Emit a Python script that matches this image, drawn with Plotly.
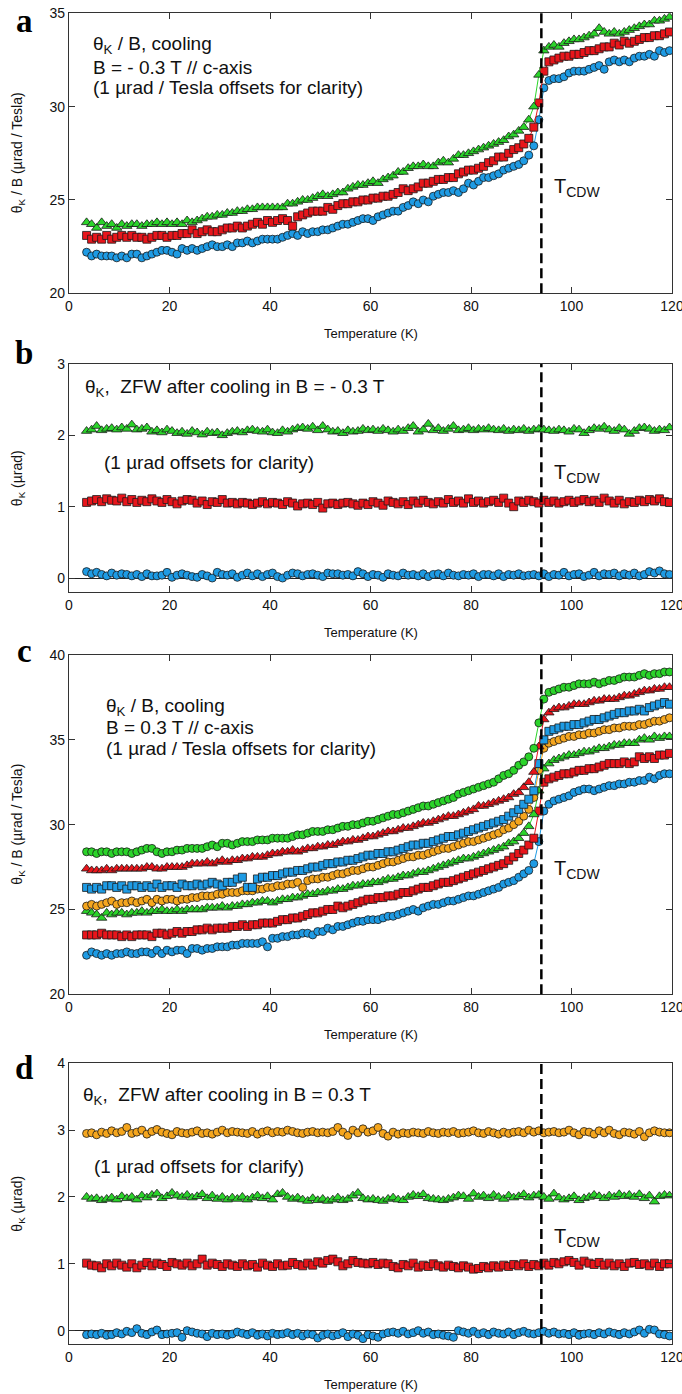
import sys
import plotly.graph_objects as go

# ---------------- data ----------------
T = [3.5, 4.5, 5.5, 6.5, 7.5, 8.5, 9.5, 10.5, 11.5, 12.5,
     13.5, 14.5, 15.5, 16.5, 17.5, 18.5, 19.5, 20.5, 21.5, 22.5,
     23.5, 24.5, 25.5, 26.5, 27.5, 28.5, 29.5, 30.5, 31.5, 32.5,
     33.5, 34.5, 35.5, 36.5, 37.5, 38.5, 39.5, 40.5, 41.5, 42.5,
     43.5, 44.5, 45.5, 46.5, 47.5, 48.5, 49.5, 50.5, 51.5, 52.5,
     53.5, 54.5, 55.5, 56.5, 57.5, 58.5, 59.5, 60.5, 61.5, 62.5,
     63.5, 64.5, 65.5, 66.5, 67.5, 68.5, 69.5, 70.5, 71.5, 72.5,
     73.5, 74.5, 75.5, 76.5, 77.5, 78.5, 79.5, 80.5, 81.5, 82.5,
     83.5, 84.5, 85.5, 86.5, 87.5, 88.5, 89.5, 90.5, 91.5, 92.5,
     93.5, 94.5, 95.5, 96.5, 97.5, 98.5, 99.5, 100.5, 101.5, 102.5,
     103.5, 104.5, 105.5, 106.5, 107.5, 108.5, 109.5, 110.5, 111.5, 112.5,
     113.5, 114.5, 115.5, 116.5, 117.5, 118.5, 119.5]

# panel a : theta_K / B, cooling, B = -0.3 T
a_blue = [22.2, 22.0, 22.1, 22.0, 22.0, 22.0, 21.9, 22.0, 21.9, 22.1,
          22.1, 21.9, 22.0, 22.1, 22.2, 22.3, 22.3, 22.2, 22.1, 22.4,
          22.3, 22.4, 22.3, 22.4, 22.5, 22.6, 22.5, 22.5, 22.6, 22.5,
          22.7, 22.7, 22.8, 22.7, 22.8, 22.9, 22.9, 22.9, 22.9, 23.0,
          23.1, 23.2, 23.1, 23.3, 23.2, 23.3, 23.3, 23.4, 23.4, 23.5,
          23.6, 23.7, 23.7, 23.8, 23.9, 24.0, 24.0, 23.9, 24.1, 24.2,
          24.3, 24.4, 24.4, 24.6, 24.7, 24.9, 24.8, 25.0, 24.9, 25.2,
          25.3, 25.4, 25.4, 25.5, 25.4, 25.6, 25.9, 25.8, 26.0, 26.2,
          26.2, 26.3, 26.4, 26.6, 26.7, 26.8, 26.9, 27.1, 27.4, 27.9,
          29.3, 31.0, 31.4, 31.5, 31.5, 31.6, 31.8, 31.9, 31.9, 31.9,
          32.0, 32.1, 32.2, 32.0, 32.4, 32.5, 32.4, 32.5, 32.4, 32.6,
          32.7, 32.7, 32.8, 32.7, 33.0, 32.9, 33.0]
a_red = [23.1, 22.9, 23.0, 22.9, 23.1, 22.9, 23.0, 23.1, 23.0, 23.1,
         23.0, 23.0, 22.9, 23.0, 23.1, 23.1, 23.0, 23.1, 23.1, 23.2,
         23.2, 23.4, 23.2, 23.3, 23.4, 23.3, 23.3, 23.4, 23.5, 23.5,
         23.6, 23.5, 23.6, 23.7, 23.8, 23.7, 23.9, 23.8, 23.9, 24.0,
         23.9, 23.6, 24.1, 24.2, 24.3, 24.4, 24.4, 24.4, 24.6, 24.5,
         24.7, 24.8, 24.8, 24.9, 24.9, 25.0, 25.0, 25.1, 25.1, 25.2,
         25.2, 25.3, 25.4, 25.6, 25.5, 25.6, 25.7, 25.9, 25.9, 26.0,
         26.1, 26.1, 26.2, 26.2, 26.4, 26.5, 26.6, 26.6, 26.7, 26.8,
         27.0, 27.1, 27.3, 27.3, 27.5, 27.7, 27.8, 28.0, 28.3, 28.9,
         30.2, 31.9, 32.4, 32.5, 32.6, 32.7, 32.7, 32.8, 32.8, 32.9,
         33.0, 33.0, 33.1, 33.2, 33.2, 33.4, 33.3, 33.5, 33.4, 33.5,
         33.6, 33.7, 33.7, 33.8, 33.8, 33.9, 34.0]
a_green = [23.8, 23.7, 23.5, 23.8, 23.6, 23.7, 23.5, 23.7, 23.6, 23.7,
           23.7, 23.6, 23.7, 23.7, 23.8, 23.7, 23.8, 23.7, 23.8, 23.7,
           23.9, 23.8, 23.9, 24.0, 24.1, 24.1, 24.2, 24.2, 24.3, 24.3,
           24.4, 24.4, 24.5, 24.5, 24.6, 24.6, 24.6, 24.6, 24.6, 24.6,
           24.8, 24.8, 24.9, 25.0, 25.0, 25.1, 25.2, 25.3, 25.2, 25.3,
           25.4, 25.4, 25.6, 25.7, 25.8, 25.8, 25.9, 26.0, 25.9, 26.1,
           26.2, 26.3, 26.5, 26.5, 26.7, 26.8, 26.8, 26.9, 26.8, 26.8,
           27.0, 27.1, 27.0, 27.2, 27.4, 27.4, 27.5, 27.6, 27.7, 27.8,
           27.9, 28.0, 28.1, 28.2, 28.4, 28.5, 28.7, 28.9, 29.3, 30.0,
           31.7, 33.0, 33.2, 33.3, 33.2, 33.4, 33.5, 33.6, 33.6, 33.7,
           33.8, 33.9, 34.2, 34.0, 33.9, 34.0, 33.9, 34.0, 34.1, 34.2,
           34.3, 34.4, 34.4, 34.6, 34.6, 34.7, 34.8]

# panel b : theta_K, ZFW after cooling in B = -0.3 T (offset by 1 urad)
b_blue = [0.09, 0.06, 0.08, 0.05, 0.03, 0.07, 0.04, 0.06, 0.05, 0.03,
          0.05, 0.02, 0.06, 0.03, 0.03, 0.04, 0.08, 0.01, 0.04, 0.06,
          0.04, 0.02, 0.01, 0.05, 0.03, 0.00, 0.08, 0.05, 0.04, 0.06,
          0.01, 0.04, 0.07, 0.03, 0.06, 0.02, 0.05, 0.07, 0.02, 0.00,
          0.04, 0.07, 0.06, 0.03, 0.05, 0.06, 0.04, 0.02, 0.07, 0.06,
          0.06, 0.04, 0.05, 0.03, 0.09, 0.06, 0.02, 0.05, 0.04, 0.01,
          0.06, 0.04, 0.03, 0.07, 0.04, 0.05, 0.03, 0.06, 0.02, 0.05,
          0.06, 0.03, 0.07, 0.04, 0.03, 0.05, 0.04, 0.06, 0.02, 0.05,
          0.05, 0.03, 0.06, 0.02, 0.05, 0.04, 0.06, 0.03, 0.04, 0.05,
          0.03, 0.06, 0.02, 0.05, 0.04, 0.08, 0.03, 0.05, 0.06, 0.02,
          0.04, 0.08, 0.03, 0.06, 0.05, 0.07, 0.03, 0.06, 0.04, 0.07,
          0.03, 0.05, 0.09, 0.07, 0.10, 0.06, 0.05]
b_red = [1.06, 1.08, 1.10, 1.07, 1.11, 1.09, 1.08, 1.12, 1.07, 1.10,
         1.06, 1.09, 1.07, 1.11, 1.08, 1.06, 1.10, 1.07, 1.04, 1.08,
         1.10, 1.09, 1.05, 1.08, 1.03, 1.07, 1.06, 1.10, 1.05, 1.06,
         1.04, 1.06, 1.05, 1.03, 1.05, 1.07, 1.04, 1.06, 1.05, 1.03,
         1.07, 1.05, 1.01, 1.04, 1.05, 1.03, 1.06, 0.98, 1.04, 1.05,
         1.03, 1.05, 1.06, 1.04, 1.02, 1.05, 1.03, 1.07, 1.05, 1.02,
         1.08, 1.06, 1.04, 1.07, 1.03, 1.08, 1.05, 1.09, 1.06, 1.04,
         1.07, 1.05, 1.10, 1.06, 1.08, 1.05, 1.11, 1.06, 1.08, 1.05,
         1.07, 1.09, 1.06, 1.12, 1.05, 1.00, 1.08, 1.06, 1.09, 1.07,
         1.05, 1.09, 1.06, 1.08, 1.05, 1.07, 1.09, 1.06, 1.08, 1.10,
         1.07, 1.09, 1.06, 1.12, 1.08, 1.05, 1.09, 1.04, 1.07, 1.06,
         1.09, 1.07, 1.10, 1.08, 1.11, 1.07, 1.06]
b_green = [2.06, 2.08, 2.13, 2.07, 2.09, 2.10, 2.08, 2.11, 2.09, 2.15,
           2.08, 2.09, 2.11, 2.05, 2.07, 2.04, 2.08, 2.06, 2.03, 2.05,
           2.02, 2.06, 2.04, 2.01, 2.05, 2.03, 2.04, 2.00, 2.03, 2.05,
           2.06, 2.04, 2.07, 2.08, 2.06, 2.05, 2.08, 2.04, 2.03, 2.07,
           2.05, 2.08, 2.10, 2.11, 2.09, 2.12, 2.07, 2.13, 2.08, 2.05,
           2.06, 2.03, 2.07, 2.05, 2.06, 2.09, 2.07, 2.08, 2.06, 2.09,
           2.07, 2.05, 2.08, 2.06, 2.10, 2.13, 2.05, 2.08, 2.16, 2.07,
           2.10, 2.06, 2.09, 2.13, 2.07, 2.08, 2.10, 2.07, 2.09, 2.08,
           2.10, 2.08, 2.07, 2.09, 2.06, 2.08, 2.07, 2.09, 2.06, 2.08,
           2.09, 2.08, 2.07, 2.06, 2.08, 2.07, 2.05, 2.09, 2.08, 2.03,
           2.07, 2.10, 2.09, 2.12, 2.08, 2.06, 2.10, 2.08, 2.02, 2.06,
           2.10, 2.11, 2.09, 2.06, 2.08, 2.07, 2.11]

# panel c : theta_K / B, cooling, B = 0.3 T (seven runs, offset)
c_blue_circ = [22.3, 22.5, 22.4, 22.3, 22.4, 22.3, 22.4, 22.4, 22.5, 22.4,
               22.4, 22.5, 22.5, 22.4, 22.6, 22.4, 22.6, 22.5, 22.6, 22.6,
               22.4, 22.7, 22.7, 22.6, 22.7, 22.7, 22.8, 22.8, 22.8, 22.9,
               22.9, 23.0, 23.0, 23.0, 23.0, 23.1, 22.8, 23.3, 23.3, 23.4,
               23.4, 23.5, 23.5, 23.6, 23.6, 23.5, 23.7, 23.7, 23.9, 23.8,
               24.0, 24.0, 24.1, 24.2, 24.3, 24.3, 24.4, 24.4, 24.4, 24.5,
               24.6, 24.6, 24.7, 24.8, 24.9, 25.0, 24.9, 25.1, 25.2, 25.3,
               25.3, 25.4, 25.5, 25.5, 25.6, 25.7, 25.8, 25.8, 25.9, 26.0,
               26.1, 26.2, 26.3, 26.5, 26.6, 26.7, 26.9, 27.1, 27.3, 27.7,
               29.0, 30.8, 31.2, 31.4, 31.5, 31.6, 31.7, 31.9, 32.0, 32.1,
               32.1, 32.0, 32.1, 32.2, 32.3, 32.3, 32.4, 32.4, 32.5, 32.5,
               32.6, 32.6, 32.8, 32.7, 32.9, 33.0, 33.0]
c_red_sq = [23.5, 23.5, 23.5, 23.6, 23.5, 23.5, 23.5, 23.4, 23.5, 23.4,
            23.5, 23.5, 23.5, 23.4, 23.6, 23.6, 23.5, 23.6, 23.7, 23.6,
            23.7, 23.7, 23.8, 23.8, 23.9, 23.8, 23.9, 23.9, 23.9, 24.0,
            24.0, 24.1, 24.0, 24.1, 24.1, 24.2, 24.2, 24.2, 24.3, 24.4,
            24.4, 24.5, 24.5, 24.6, 24.7, 24.8, 24.8, 24.9, 25.0, 25.0,
            25.2, 25.1, 25.2, 25.3, 25.4, 25.5, 25.6, 25.6, 25.7, 25.7,
            25.8, 25.8, 25.9, 26.0, 26.0, 26.1, 26.2, 26.3, 26.3, 26.4,
            26.5, 26.6, 26.6, 26.7, 26.8, 26.9, 27.0, 27.1, 27.2, 27.3,
            27.4, 27.5, 27.6, 27.7, 27.9, 28.1, 28.3, 28.5, 28.8, 29.2,
            30.8, 32.5, 32.7, 32.8, 32.9, 33.0, 33.0, 33.1, 33.2, 33.2,
            33.3, 33.3, 33.4, 33.5, 33.6, 33.6, 33.6, 33.7, 33.6, 33.7,
            34.0, 33.9, 34.0, 33.9, 34.1, 34.1, 34.2]
c_green_tri = [24.9, 24.8, 24.7, 24.5, 24.8, 24.7, 24.8, 24.8, 24.7, 24.8,
               24.8, 24.9, 24.8, 24.9, 24.9, 25.0, 24.9, 24.9, 25.0, 24.9,
               25.0, 25.0, 25.0, 25.0, 25.1, 25.1, 25.1, 25.2, 25.1, 25.2,
               25.2, 25.3, 25.3, 25.4, 25.4, 25.5, 25.5, 25.4, 25.5, 25.6,
               25.6, 25.7, 25.7, 25.8, 25.9, 25.9, 26.0, 26.0, 26.1, 26.1,
               26.2, 26.2, 26.3, 26.4, 26.4, 26.5, 26.5, 26.6, 26.6, 26.7,
               26.8, 26.8, 26.9, 27.0, 27.0, 27.1, 27.2, 27.2, 27.3, 27.4,
               27.5, 27.6, 27.7, 27.8, 27.9, 28.0, 28.0, 28.1, 28.2, 28.3,
               28.4, 28.5, 28.6, 28.7, 28.9, 29.0, 29.2, 29.5, 29.9, 30.6,
               32.0, 33.3, 33.6, 33.8, 33.9, 34.0, 34.1, 34.1, 34.2, 34.3,
               34.3, 34.4, 34.5, 34.5, 34.6, 34.7, 34.7, 34.8, 34.8, 34.8,
               35.0, 35.1, 35.0, 35.2, 35.1, 35.2, 35.2]
c_orange_circ = [25.2, 25.3, 25.2, 25.3, 25.4, 25.5, 25.3, 25.4, 25.4, 25.5,
                 25.4, 25.5, 25.6, 25.4, 25.6, 25.5, 25.6, 25.6, 25.5, 25.6,
                 25.6, 25.7, 25.7, 25.8, 25.8, 25.8, 25.9, 25.9, 26.0, 26.0,
                 26.0, 26.1, 26.1, 26.1, 26.2, 26.2, 26.3, 26.3, 26.4, 26.4,
                 26.5, 26.5, 26.6, 26.3, 26.7, 26.8, 26.8, 26.9, 26.9, 27.0,
                 27.1, 27.1, 27.2, 27.3, 27.3, 27.4, 27.5, 27.5, 27.6, 27.7,
                 27.8, 27.8, 27.9, 28.0, 28.1, 28.1, 28.2, 28.2, 28.3, 28.4,
                 28.5, 28.6, 28.6, 28.7, 28.8, 28.9, 29.0, 29.0, 29.1, 29.2,
                 29.3, 29.4, 29.5, 29.7, 29.8, 30.0, 30.2, 30.5, 30.9, 31.6,
                 33.2, 34.5, 34.8, 34.9, 35.0, 35.1, 35.2, 35.2, 35.3, 35.3,
                 35.4, 35.4, 35.5, 35.6, 35.6, 35.7, 35.7, 35.8, 35.8, 35.8,
                 35.9, 35.9, 36.0, 36.1, 36.1, 36.2, 36.3]
c_blue_sq = [26.3, 26.2, 26.3, 26.2, 26.4, 26.4, 26.3, 26.4, 26.2, 26.4,
             26.4, 26.3, 26.4, 26.3, 26.5, 26.3, 26.4, 26.4, 26.3, 26.5,
             26.4, 26.4, 26.5, 26.4, 26.5, 26.6, 26.5, 26.4, 26.6, 26.6,
             26.8, 26.9, 26.3, 26.3, 26.8, 26.9, 26.9, 27.0, 27.0, 27.1,
             27.2, 27.2, 27.3, 27.3, 27.4, 27.5, 27.5, 27.6, 27.7, 27.7,
             27.8, 27.8, 27.9, 27.9, 28.0, 28.1, 28.2, 28.2, 28.3, 28.3,
             28.4, 28.4, 28.5, 28.6, 28.7, 28.8, 28.8, 28.9, 28.9, 29.0,
             29.1, 29.2, 29.3, 29.3, 29.4, 29.5, 29.6, 29.7, 29.8, 29.9,
             30.0, 30.1, 30.2, 30.3, 30.5, 30.7, 30.9, 31.2, 31.5, 32.0,
             33.6, 35.0, 35.5, 35.6, 35.7, 35.8, 35.8, 35.9, 35.9, 36.0,
             36.1, 36.2, 36.2, 36.3, 36.4, 36.5, 36.6, 36.6, 36.7, 36.7,
             36.8, 36.7, 36.9, 37.0, 37.1, 37.2, 37.1]
c_red_tri = [27.4, 27.3, 27.3, 27.3, 27.4, 27.3, 27.4, 27.4, 27.4, 27.4,
             27.4, 27.4, 27.5, 27.5, 27.4, 27.4, 27.5, 27.5, 27.5, 27.5,
             27.6, 27.7, 27.7, 27.7, 27.8, 27.7, 27.8, 27.9, 27.8, 27.9,
             27.9, 28.0, 28.0, 28.1, 28.1, 28.1, 28.2, 28.3, 28.3, 28.4,
             28.4, 28.5, 28.4, 28.5, 28.6, 28.6, 28.7, 28.7, 28.8, 28.8,
             28.9, 29.0, 29.0, 29.1, 29.1, 29.2, 29.3, 29.3, 29.4, 29.5,
             29.6, 29.6, 29.7, 29.8, 29.8, 29.9, 30.0, 30.1, 30.1, 30.2,
             30.3, 30.4, 30.5, 30.5, 30.6, 30.7, 30.8, 30.9, 31.1, 31.1,
             31.2, 31.3, 31.4, 31.5, 31.6, 31.8, 31.9, 32.2, 32.5, 33.1,
             34.6, 36.2, 36.6, 36.8, 36.9, 36.9, 37.0, 37.1, 37.1, 37.1,
             37.2, 37.3, 37.3, 37.4, 37.4, 37.4, 37.5, 37.6, 37.6, 37.7,
             37.8, 37.9, 37.9, 38.0, 38.0, 38.1, 38.1]
c_green_circ = [28.4, 28.4, 28.3, 28.4, 28.4, 28.3, 28.4, 28.4, 28.4, 28.3,
                28.4, 28.5, 28.6, 28.6, 28.4, 28.3, 28.4, 28.4, 28.5, 28.5,
                28.6, 28.6, 28.6, 28.6, 28.7, 28.8, 28.7, 28.9, 28.9, 28.8,
                28.9, 29.0, 29.0, 29.0, 29.1, 29.1, 29.1, 29.2, 29.2, 29.2,
                29.2, 29.3, 29.4, 29.4, 29.5, 29.6, 29.6, 29.6, 29.7, 29.7,
                29.8, 29.9, 29.9, 30.0, 30.0, 30.1, 30.2, 30.2, 30.3, 30.4,
                30.5, 30.6, 30.6, 30.7, 30.8, 30.9, 31.0, 31.1, 31.1, 31.2,
                31.3, 31.4, 31.5, 31.6, 31.8, 31.9, 32.0, 32.1, 32.2, 32.3,
                32.4, 32.5, 32.7, 32.9, 33.0, 33.2, 33.5, 33.7, 34.0, 34.5,
                36.0, 37.4, 37.8, 37.9, 38.0, 38.1, 38.1, 38.2, 38.3, 38.3,
                38.3, 38.4, 38.3, 38.4, 38.5, 38.5, 38.6, 38.7, 38.7, 38.7,
                38.8, 38.9, 38.8, 38.9, 38.9, 39.0, 39.0]

# panel d : theta_K, ZFW after cooling in B = 0.3 T (offset by 1 urad)
d_blue = [-0.06, -0.05, -0.06, -0.04, -0.07, -0.06, -0.03, -0.05, -0.01, -0.03,
          0.03, -0.04, -0.06, -0.02, 0.01, -0.06, -0.05, -0.04, -0.03, -0.10,
          0.00, -0.02, -0.04, -0.05, -0.09, -0.04, -0.06, -0.05, -0.07, -0.05,
          -0.02, -0.04, -0.06, -0.03, -0.07, -0.05, -0.08, -0.04, -0.06, -0.05,
          -0.03, -0.06, -0.04, -0.08, -0.05, -0.06, -0.11, -0.07, -0.05, -0.08,
          -0.06, -0.03, -0.09, -0.05, -0.07, -0.12, -0.06, -0.08, -0.10, -0.05,
          -0.03, -0.02, -0.04, -0.01, -0.05, -0.03, 0.00, -0.04, -0.02, -0.06,
          -0.05, -0.07, -0.08, -0.10, 0.00, -0.02, -0.04, -0.01, -0.05, -0.03,
          -0.06, -0.02, -0.04, -0.05, -0.02, -0.06, -0.03, -0.01, -0.04, -0.05,
          -0.03, -0.01, -0.04, -0.02, -0.05, -0.04, -0.06, -0.03, -0.07, -0.05,
          -0.04, -0.06, -0.03, -0.05, -0.02, -0.04, -0.06, -0.03, -0.05, -0.02,
          0.01, -0.04, 0.02, 0.01, -0.05, -0.06, -0.08]
d_red = [1.01, 0.98, 0.97, 0.94, 1.00, 0.97, 1.01, 0.98, 0.95, 1.00,
         0.94, 0.98, 1.02, 0.97, 1.01, 0.99, 0.96, 1.02, 1.00, 0.98,
         1.01, 0.97, 1.00, 1.07, 0.98, 1.01, 0.99, 0.96, 1.00, 0.98,
         0.96, 1.00, 0.97, 0.99, 0.95, 1.01, 0.98, 0.96, 1.00, 0.97,
         0.98, 1.02, 0.99, 0.97, 1.01, 0.98, 1.03, 1.01, 1.05, 1.07,
         1.03, 0.97, 1.00, 1.05, 1.02, 1.01, 1.00, 1.02, 0.99, 1.01,
         1.00, 0.96, 0.94, 0.99, 0.97, 1.01, 0.95, 0.98, 0.96, 1.00,
         0.97, 0.95, 0.98, 0.96, 0.94, 0.97, 0.95, 0.92, 0.93, 0.96,
         0.94, 0.97, 0.95, 0.98, 0.96, 0.99, 0.97, 1.00, 0.96, 0.99,
         0.97, 1.01, 0.98, 1.02, 1.00, 1.03, 1.05, 1.02, 0.98, 1.04,
         1.01, 0.99, 1.02, 0.98, 1.01, 0.97, 1.00, 0.96, 1.01, 1.02,
         0.99, 1.00, 0.97, 1.01, 0.96, 1.00, 1.00]
d_green = [2.00, 1.97, 1.98, 1.95, 1.97, 1.99, 1.96, 2.01, 1.98, 2.00,
           1.96, 2.02, 1.99, 2.03, 2.05, 1.98, 2.01, 2.06, 2.02, 2.00,
           2.03, 1.99, 2.01, 2.04, 1.98, 2.02, 1.97, 2.00, 1.96, 1.99,
           1.97, 2.00, 1.96, 1.99, 2.02, 1.98, 2.01, 1.96, 2.04, 2.06,
           2.00, 1.97, 1.99, 1.96, 1.94, 1.98, 1.95, 1.97, 1.94, 1.96,
           1.99, 1.95, 1.97, 2.02, 2.06, 1.98, 1.96, 1.97, 1.95, 1.94,
           1.97, 1.99, 1.96, 1.95, 2.00, 2.03, 2.01, 2.04, 1.98, 1.97,
           1.96, 1.95, 1.97, 1.99, 2.02, 2.01, 1.97, 2.05, 2.00, 2.02,
           1.98, 2.03, 2.00, 1.97, 2.02, 1.99, 2.01, 2.04, 1.99, 2.02,
           2.03, 2.00, 1.97, 2.05, 1.99, 1.96, 1.98, 2.01, 1.95, 1.98,
           2.00, 2.03, 2.01, 1.98, 2.02, 2.00, 2.04, 2.01, 2.03, 2.00,
           2.04, 1.98, 2.02, 1.93, 2.01, 2.03, 2.02]
d_orange = [2.95, 2.96, 2.93, 2.97, 2.95, 2.99, 2.96, 2.98, 3.04, 2.95,
            2.97, 3.00, 2.94, 2.98, 3.01, 2.97, 2.95, 2.93, 2.98, 2.96,
            2.95, 2.97, 2.99, 2.95, 2.96, 2.94, 2.97, 3.00, 2.96, 2.98,
            2.97, 2.96, 2.95, 2.98, 2.94, 2.97, 2.99, 2.96, 2.98, 2.97,
            3.00, 2.98, 2.96, 2.95, 2.97, 2.98, 2.96, 2.97, 2.96, 2.98,
            3.04, 2.97, 2.92, 3.00, 2.96, 3.02, 2.97, 2.99, 3.04, 2.95,
            2.91, 2.97, 2.94, 2.96, 2.95, 2.97, 2.96, 2.95, 2.98, 2.96,
            2.95, 2.97, 2.96, 2.98, 2.95, 2.96, 2.97, 2.99, 2.96, 2.95,
            2.98, 2.96, 2.94, 2.97, 2.95, 2.97, 2.98, 2.96, 3.00, 2.97,
            2.99, 2.96, 2.97, 2.98, 2.96, 2.97, 3.00, 2.96, 2.93, 2.98,
            2.97, 2.94, 2.99, 2.96, 3.00, 2.95, 2.93, 2.97, 2.96, 2.94,
            2.98, 2.90, 2.96, 2.99, 2.97, 2.96, 2.96]

T_CDW = 94
x_ticks = [0, 20, 40, 60, 80, 100, 120]

# ---------------- style ----------------
W, H = 682, 1394
BLUE = "#1e9be4"
RED = "#e8151b"
GREEN = "#2bd42a"
ORANGE = "#f5a61e"
EDGE = "#1a1a1a"
FONT = "Liberation Sans, Arial, Helvetica, sans-serif"
SERIF = "Liberation Serif, Times New Roman, serif"

PX_L, PX_R = 69, 672
panel_px = {1: (13.3, 293.3), 2: (364.0, 592.3), 3: (655.0, 994.3), 4: (1063.3, 1344.0)}
y_ranges = {1: [20, 35], 2: [-0.2, 3], 3: [20, 40], 4: [-0.2, 4]}
y_dtick = {1: 5, 2: 1, 3: 5, 4: 1}

def dom(top, bot):
    return [1 - bot / H, 1 - top / H]

series = [
    (1, a_blue, "circle", BLUE, 8), (1, a_red, "square", RED, 8), (1, a_green, "triangle-up", GREEN, 9),
    (2, b_blue, "circle", BLUE, 8), (2, b_red, "square", RED, 8), (2, b_green, "triangle-up", GREEN, 9),
    (3, c_blue_circ, "circle", BLUE, 8), (3, c_red_sq, "square", RED, 8),
    (3, c_green_tri, "triangle-up", GREEN, 9), (3, c_orange_circ, "circle", ORANGE, 8),
    (3, c_blue_sq, "square", BLUE, 8), (3, c_red_tri, "triangle-up", RED, 9),
    (3, c_green_circ, "circle", GREEN, 8),
    (4, d_blue, "circle", BLUE, 8), (4, d_red, "square", RED, 8),
    (4, d_green, "triangle-up", GREEN, 9), (4, d_orange, "circle", ORANGE, 8),
]

fig = go.Figure()
for p, vals, sym, col, sz in series:
    if len(vals) != len(T):
        print("length mismatch", len(vals), file=sys.stderr)
    sfx = "" if p == 1 else str(p)
    fig.add_trace(go.Scatter(
        x=T[:len(vals)], y=vals, mode="lines+markers",
        xaxis="x" + sfx, yaxis="y" + sfx,
        line=dict(color=col, width=1),
        marker=dict(symbol=sym, size=sz, color=col, line=dict(color=EDGE, width=0.8)),
        showlegend=False, hoverinfo="skip"))

layout = dict(width=W, height=H, margin=dict(l=0, r=0, t=0, b=0),
              paper_bgcolor="white", plot_bgcolor="white", template="none",
              font=dict(family=FONT, color="#111", size=14), showlegend=False)

for p in range(1, 5):
    sfx = "" if p == 1 else str(p)
    top, bot = panel_px[p]
    layout["xaxis" + sfx] = dict(
        domain=[PX_L / W, PX_R / W], anchor="y" + sfx, range=[0, 120],
        tickvals=x_ticks, ticks="inside", ticklen=6, tickwidth=1, tickcolor="#333",
        showline=True, linecolor="#333", linewidth=1.2, mirror="ticks",
        ticklabeloverflow="allow",
        showgrid=False, zeroline=False, tickfont=dict(size=14, family=FONT, color="#111"))
    layout["yaxis" + sfx] = dict(
        domain=dom(top, bot), anchor="x" + sfx, range=y_ranges[p],
        dtick=y_dtick[p], tick0=0, ticks="inside", ticklen=6, tickwidth=1, tickcolor="#333",
        showline=True, linecolor="#333", linewidth=1.2, mirror="ticks",
        ticklabeloverflow="allow",
        showgrid=False, zeroline=(p in (2, 4)), zerolinecolor="#222", zerolinewidth=1,
        tickfont=dict(size=14, family=FONT, color="#111"))

fig.update_layout(**layout)

shapes = []
annos = []
ytitles = {1: "θ<sub>K</sub> / B (µrad / Tesla)", 2: "θ<sub>K</sub> (µrad)",
           3: "θ<sub>K</sub> / B (µrad / Tesla)", 4: "θ<sub>K</sub> (µrad)"}
letters = {1: "a", 2: "b", 3: "c", 4: "d"}
# (anchor, pixel y) for the panel letters
letter_pos = {1: ("top", 0.5), 2: ("middle", 353.0), 3: ("middle", 651.0), 4: ("middle", 1068.0)}
tcdw_y = {1: 25.65, 2: 1.47, 3: 27.33, 4: 1.39}

for p in range(1, 5):
    sfx = "" if p == 1 else str(p)
    top, bot = panel_px[p]
    shapes.append(dict(type="line", xref="x" + sfx, yref="y" + sfx + " domain",
                       x0=T_CDW, x1=T_CDW, y0=0, y1=1,
                       line=dict(color="black", width=2.5, dash="10px,5px")))
    annos.append(dict(xref="paper", yref="paper", x=18 / W, y=1 - (top + bot) / 2 / H,
                      text=ytitles[p], textangle=-90, showarrow=False,
                      font=dict(size=14, family=FONT, color="#111"),
                      xanchor="center", yanchor="middle"))
    annos.append(dict(xref="paper", yref="paper", x=(PX_L + PX_R) / 2 / W, y=1 - (bot + 40) / H,
                      text="Temperature (K)", showarrow=False,
                      font=dict(size=13, family=FONT, color="#111"),
                      xanchor="center", yanchor="middle"))
    anc, ly = letter_pos[p]
    annos.append(dict(xref="paper", yref="paper", x=24 / W, y=1 - ly / H,
                      text="<b>" + letters[p] + "</b>", showarrow=False,
                      font=dict(size=33, family=SERIF, color="black"),
                      xanchor="center", yanchor=anc))
    annos.append(dict(xref="x" + sfx, yref="y" + sfx, x=96.2, y=tcdw_y[p],
                      text="T<sub>CDW</sub>", showarrow=False,
                      font=dict(size=20, family=FONT, color="#111"),
                      xanchor="left", yanchor="middle"))

def txt(px_x, px_y, s, size=19):
    annos.append(dict(xref="paper", yref="paper", x=px_x / W, y=1 - px_y / H, text=s,
                      showarrow=False, font=dict(size=size, family=FONT, color="#111"),
                      xanchor="left", yanchor="middle"))

txt(91, 45, "θ<sub>K</sub> / B, cooling")
txt(91, 67, "B = - 0.3 T // c-axis")
txt(91, 88, "(1 µrad / Tesla offsets for clarity)")
txt(83, 388, "θ<sub>K</sub>,  ZFW after cooling in B = - 0.3 T")
txt(102, 462, "(1 µrad offsets for clarity)")
txt(104, 706.7, "θ<sub>K</sub> / B, cooling")
txt(104, 727, "B = 0.3 T // c-axis")
txt(104, 748, "(1 µrad / Tesla offsets for clarity)")
txt(81, 1096, "θ<sub>K</sub>,  ZFW after cooling in B = 0.3 T")
txt(92, 1166, "(1 µrad offsets for clarify)")

fig.update_layout(shapes=shapes, annotations=annos)
fig.write_html("out.html", config={"displayModeBar": False},
               post_script="document.body.style.margin='0';document.body.style.overflow='hidden';")
